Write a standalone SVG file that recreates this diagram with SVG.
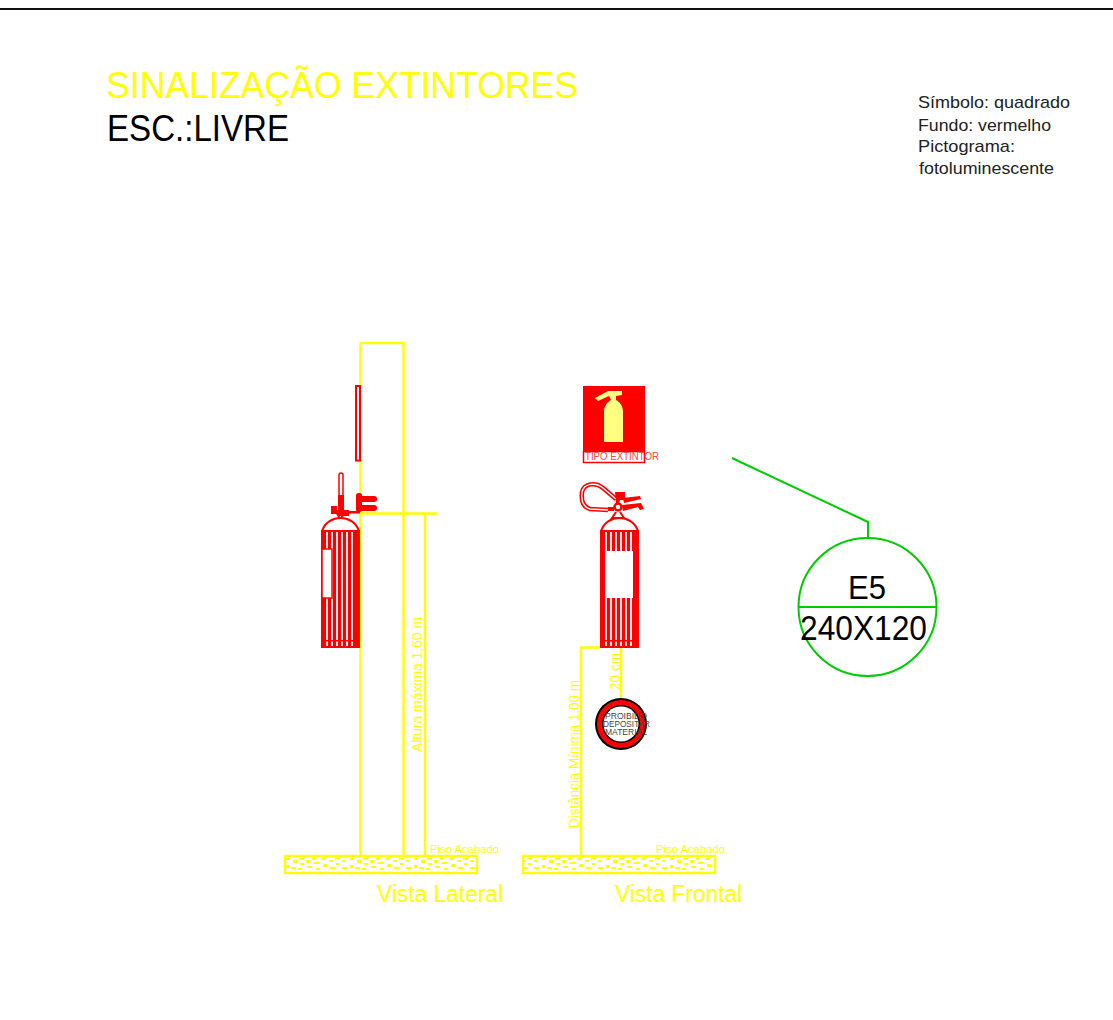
<svg xmlns="http://www.w3.org/2000/svg" width="1113" height="1020" viewBox="0 0 1113 1020">
<style>
text{font-family:"Liberation Sans",Arial,sans-serif}
.y{fill:none;stroke:#ff0;stroke-width:2.400}
.yt{fill:#ff0}
.r{fill:none;stroke:#f00;stroke-width:2}
.rf{fill:#f00;stroke:none}
.g{fill:none;stroke:#0c0;stroke-width:2}
.k{fill:#000}
</style>
<defs>
<pattern id="hatch" width="64" height="17" patternUnits="userSpaceOnUse" x="285" y="856">
<g fill="#ff0">
<rect x="1" y="2" width="4" height="2"/><rect x="8" y="4" width="4" height="3"/><rect x="1" y="9" width="3" height="3"/><rect x="6" y="11" width="5" height="2"/>
<rect x="14" y="2" width="5" height="2"/><rect x="15" y="7" width="4" height="2"/><rect x="13" y="12" width="4" height="2"/><rect x="21" y="4" width="3" height="3"/>
<rect x="22" y="10" width="5" height="2"/><rect x="27" y="2" width="3" height="2"/><rect x="29" y="6" width="5" height="2"/><rect x="31" y="12" width="4" height="2"/>
<rect x="36" y="2" width="5" height="2"/><rect x="38" y="8" width="4" height="3"/><rect x="44" y="4" width="4" height="2"/><rect x="45" y="11" width="5" height="2"/>
<rect x="50" y="2" width="5" height="2"/><rect x="51" y="7" width="4" height="2"/><rect x="57" y="4" width="4" height="2"/><rect x="57" y="11" width="5" height="2"/>
</g>
</pattern>
<g id="body">
<path class="r" d="M1 14C4 5 12 1 19.500 1S35 5 38 14"/>
<rect class="rf" x="0" y="13" width="39" height="118"/>
<path fill="none" stroke="#fff" stroke-width="1.800" d="M6 15V129M11 15V129M16 15V129M21 15V129M26 15V129M31 15V129"/>
<rect class="rf" x="0" y="123" width="39" height="1.500"/>
</g>
</defs>
<rect width="1113" height="1020" fill="#fff"/>
<line x1="0" y1="9" x2="1113" y2="9" stroke="#111" stroke-width="2"/>
<g id="title">
<text x="106" y="98" font-size="36" class="yt" textLength="472" lengthAdjust="spacingAndGlyphs">SINALIZAÇÃO EXTINTORES</text>
<text x="107" y="141" font-size="36" class="k" textLength="182" lengthAdjust="spacingAndGlyphs">ESC.:LIVRE</text>
</g>
<g id="notes" font-size="17" fill="#222">
<text x="918" y="108" textLength="152" lengthAdjust="spacingAndGlyphs">Símbolo: quadrado</text>
<text x="918" y="131" textLength="133" lengthAdjust="spacingAndGlyphs">Fundo: vermelho</text>
<text x="918" y="152" textLength="97" lengthAdjust="spacingAndGlyphs">Pictograma:</text>
<text x="919" y="174" textLength="135" lengthAdjust="spacingAndGlyphs">fotoluminescente</text>
</g>
<g id="connectors">
<path class="y" d="M360.500 343H403.500V856M360.500 343V856"/>
<path class="y" d="M360 513.500H437M425 513.500V856"/>
<path class="y" d="M581 856V647.500H600M621 648V702"/>
<path class="g" d="M732 458L868 522V538"/>
</g>
<g id="wall-lateral">
<text transform="translate(422 752) rotate(-90)" font-size="15" class="yt" textLength="135" lengthAdjust="spacingAndGlyphs">Altura máxima 1,60 m</text>
<rect x="285" y="856" width="192" height="17" fill="url(#hatch)" stroke="#ff0" stroke-width="2.400"/>
<text x="430" y="853" font-size="11" class="yt" textLength="69" lengthAdjust="spacingAndGlyphs">Piso Acabado</text>
<text x="377" y="902" font-size="23" class="yt" textLength="126" lengthAdjust="spacingAndGlyphs">Vista Lateral</text>
</g>
<g id="wall-frontal">
<text transform="translate(579 828) rotate(-90)" font-size="15" class="yt" textLength="148" lengthAdjust="spacingAndGlyphs">Distância Mínima 1,00 m</text>
<text transform="translate(620 690) rotate(-90)" font-size="14" class="yt" textLength="37" lengthAdjust="spacingAndGlyphs">20 cm</text>
<rect x="523" y="856" width="192" height="17" fill="url(#hatch)" stroke="#ff0" stroke-width="2.400"/>
<text x="656" y="853" font-size="11" class="yt" textLength="69" lengthAdjust="spacingAndGlyphs">Piso Acabado</text>
<text x="615" y="902" font-size="23" class="yt" textLength="127" lengthAdjust="spacingAndGlyphs">Vista Frontal</text>
</g>
<g id="sign-lateral">
<rect x="356" y="386" width="4" height="74.500" class="r"/>
</g>
<g id="extinguisher-lateral">
<use href="#body" x="321" y="517"/>
<rect x="322" y="549" width="10" height="49" fill="#fff" stroke="#f00" stroke-width="1.500"/>
<rect x="339" y="473" width="4" height="30" rx="2" fill="#fff" stroke="#f00" stroke-width="1.500"/>
<rect class="rf" x="338" y="495" width="6" height="18"/>
<rect class="rf" x="331" y="506" width="6" height="8"/>
<rect class="rf" x="337" y="510" width="12" height="6"/>
<rect class="rf" x="349" y="511" width="11" height="2.500"/>
<path class="r" d="M337 514L340 518M344 514L341 518"/>
<rect class="rf" x="356" y="493" width="6" height="19" rx="2.500"/>
<rect class="rf" x="357" y="496" width="20" height="6" rx="3"/>
<rect class="rf" x="357" y="505" width="20" height="6" rx="3"/>
</g>
<g id="sign-frontal">
<rect class="rf" x="583" y="386" width="62" height="66"/>
<rect x="583.500" y="451.500" width="61" height="11" fill="#fff" stroke="#f00" stroke-width="1.500"/>
<path fill="#ffff80" d="M604 442V412C604 405 608 402 611 400L609 396L598 401L595 398L608 391H622V395L616 396V400C620 402 623 406 623 412V442Z"/>
<text x="585" y="460" font-size="10.500" fill="#f44" textLength="74" lengthAdjust="spacingAndGlyphs">TIPO EXTINTOR</text>
</g>
<g id="extinguisher-frontal">
<use href="#body" x="600" y="517"/>
<rect x="606" y="551" width="27" height="47" fill="#fff"/>
<path fill="none" stroke="#f00" stroke-width="4.500" d="M608 510L590 509C583 507 581 500 582 492C584 483 596 482 603 488L616 499"/>
<path fill="none" stroke="#fff" stroke-width="1.400" d="M608 510L590 509C583 507 581 500 582 492C584 483 596 482 603 488L616 499"/>
<path class="rf" d="M608 507h6v4h-6zM615 492h10v8h-5l-1 3h-3zM622 505L641 503L644 509L640 510L638 507L623 511ZM623 498L640 496L641 499L624 503Z"/>
<circle cx="618" cy="507" r="3.500" fill="#fff" stroke="#f00" stroke-width="2.500"/>
<path class="r" d="M616 512L612 518H624L620 512"/>
</g>
<g id="prohibition">
<circle cx="621" cy="724" r="26" fill="#000"/>
<circle cx="621" cy="724" r="24" fill="#f00"/>
<circle cx="621" cy="724" r="19" fill="#000"/>
<circle cx="621" cy="724" r="17.500" fill="#fff"/>
<g font-size="8.500" fill="#444">
<text x="605" y="719" textLength="42" lengthAdjust="spacingAndGlyphs">PROIBIDO</text>
<text x="603" y="727" textLength="47" lengthAdjust="spacingAndGlyphs">DEPOSITAR</text>
<text x="605" y="735" textLength="42" lengthAdjust="spacingAndGlyphs">MATERIAL</text>
</g>
</g>
<g id="callout">
<circle class="g" cx="867.500" cy="607" r="69"/>
<line class="g" x1="799" y1="607" x2="936" y2="607"/>
<text x="848" y="599" font-size="33" class="k" textLength="38" lengthAdjust="spacingAndGlyphs">E5</text>
<text x="800" y="640" font-size="35" class="k" textLength="127" lengthAdjust="spacingAndGlyphs">240X120</text>
</g>
</svg>
